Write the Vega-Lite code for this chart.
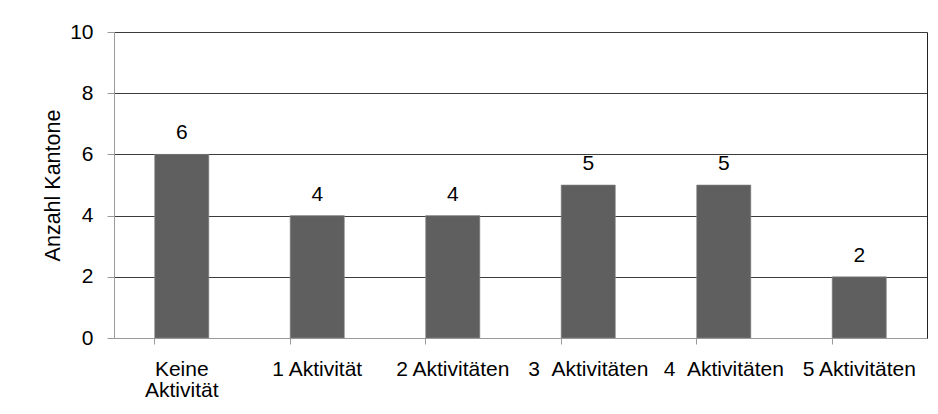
{
  "$schema": "https://vega.github.io/schema/vega-lite/v6.json",
  "width": 813,
  "height": 306,
  "autosize": "none",
  "padding": {"left": 114, "top": 32, "right": 11, "bottom": 76},
  "background": "#ffffff",
  "config": {
    "view": {"stroke": null},
    "font": "Liberation Sans",
    "axis": {"labelFont": "Liberation Sans", "titleFont": "Liberation Sans", "labelColor": "#000000", "titleColor": "#000000"}
  },
  "data": {
    "values": [
      {"kategorie": "Keine Aktivität", "anzahl": 6},
      {"kategorie": "1 Aktivität", "anzahl": 4},
      {"kategorie": "2 Aktivitäten", "anzahl": 4},
      {"kategorie": "3 \u00a0Aktivitäten", "anzahl": 5},
      {"kategorie": "4 \u00a0Aktivitäten", "anzahl": 5},
      {"kategorie": "5 Aktivitäten", "anzahl": 2}
    ]
  },
  "encoding": {
    "x": {
      "field": "kategorie",
      "type": "nominal",
      "sort": null,
      "scale": {"paddingInner": 0.6, "paddingOuter": 0.3},
      "axis": {
        "title": null,
        "labelAngle": 0,
        "labelFontSize": 21,
        "labelPadding": 14,
        "labelLimit": 0,
        "bandPosition": 0,
        "tickSize": 6,
        "tickColor": "#9a9a9a",
        "domainColor": "#9a9a9a",
        "labelExpr": "datum.label == 'Keine Aktivität' ? ['Keine', 'Aktivität'] : datum.label",
        "labelLineHeight": 21.5
      }
    }
  },
  "layer": [
    {
      "mark": {"type": "bar", "color": "#5f5f5f", "stroke": "#8f8f8f", "strokeWidth": 0.6},
      "encoding": {
        "y": {
          "field": "anzahl",
          "type": "quantitative",
          "scale": {"domain": [0, 10], "nice": false},
          "axis": {
            "title": "Anzahl Kantone",
            "titleFontSize": 21.5,
            "titleFontWeight": "normal",
            "titlePadding": 5,
            "values": [0, 2, 4, 6, 8, 10],
            "labelFontSize": 21,
            "labelPadding": 14,
            "tickSize": 7,
            "tickColor": "#9a9a9a",
            "domainColor": "#9a9a9a",
            "grid": true,
            "gridColor": "#3c3c3c",
            "gridOpacity": 1
          }
        }
      }
    },
    {
      "mark": {"type": "text", "dy": -15, "baseline": "alphabetic", "fontSize": 21, "color": "#000000"},
      "encoding": {
        "y": {
          "field": "anzahl",
          "type": "quantitative",
          "axis": {
            "orient": "right",
            "title": null,
            "labels": false,
            "ticks": false,
            "grid": false,
            "domainColor": "#222222"
          }
        },
        "text": {"field": "anzahl", "type": "quantitative"}
      }
    }
  ],
  "resolve": {"axis": {"y": "independent"}}
}
